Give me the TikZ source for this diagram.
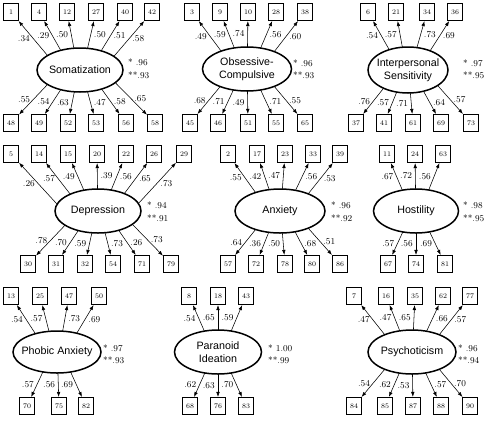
\documentclass[tikz,border=0pt]{standalone}
\usepackage{fontspec}
\newfontfamily\latentfont{Liberation Sans}
\usetikzlibrary{arrows.meta,calc,shapes.geometric}
\tikzset{>=Latex,
  latent/.style={ellipse,draw,line width=1.5pt,minimum width=86pt,minimum height=44pt,
    inner xsep=-8pt,inner ysep=-6pt,outer sep=0pt,align=center,
    font=\latentfont\fontsize{10.7}{13.5}\selectfont},
  item/.style={rectangle,draw,line width=.6pt,minimum width=15.5pt,minimum height=17.5pt,
    inner sep=0pt,font=\fontsize{7}{8}\selectfont},
  loadpath/.style={-{Latex[length=5pt,width=3.6pt]},line width=.55pt},
  lab/.style={inner sep=3pt,font=\fontsize{9}{10}\selectfont},
  fitlab/.style={anchor=west,align=left,inner sep=0pt,font=\fontsize{9}{12.5}\selectfont}}
% arrow from a factor to one of its items, leaving the ellipse part-way out
\newcommand\loading[4]{\draw[loadpath] let \p1=(#1.center),\p2=(#2.center),\p3=(#1.east),\p4=(#1.north),
  \n1={.47*(\x2-\x1)},\n2={(\y4-\y1)*sqrt(1-(\n1/(\x3-\x1))^2)*ifthenelse(\y2>\y1,1,-1)}
  in (\x1+\n1,\y1+\n2) -- (#2) node[lab,midway,#4] {#3};}

\begin{document}
\begin{tikzpicture}[x=1pt,y=-1pt]
\useasboundingbox (0,0) rectangle (486,424);
% Somatization
\node[latent] (som) at (80,70) {Somatization};
\node[fitlab] (somfit) at (128,68.5) {*\ .96\\**.93};
\node[item] (q1) at (11,12) {1}; \loading{som}{q1}{.34}{left}
\node[item] (q4) at (39,12) {4}; \loading{som}{q4}{.29}{left}
\node[item] (q12) at (67,12) {12}; \loading{som}{q12}{.50}{left}
\node[item] (q27) at (96,12) {27}; \loading{som}{q27}{.50}{right}
\node[item] (q40) at (125,12) {40}; \loading{som}{q40}{.51}{right}
\node[item] (q42) at (152,12) {42}; \loading{som}{q42}{.58}{right}
\node[item] (q48) at (11,123) {48}; \loading{som}{q48}{.55}{left}
\node[item] (q49) at (39,123) {49}; \loading{som}{q49}{.54}{left}
\node[item] (q52) at (68,123) {52}; \loading{som}{q52}{.63}{left}
\node[item] (q53) at (96,123) {53}; \loading{som}{q53}{.47}{right}
\node[item] (q56) at (126,123) {56}; \loading{som}{q56}{.58}{right}
\node[item] (q58) at (155,123) {58}; \loading{som}{q58}{.65}{right}
% Obsessive-Compulsive
\node[latent,minimum width=89pt] (obs) at (247,69) {Obsessive-\\Compulsive};
\node[fitlab] (obsfit) at (293,69) {*\ .96\\**.93};
\node[item] (q3) at (192,12) {3}; \loading{obs}{q3}{.49}{left}
\node[item] (q9) at (220,12) {9}; \loading{obs}{q9}{.59}{left}
\node[item] (q10) at (248,12) {10}; \loading{obs}{q10}{.74}{left}
\node[item] (q28) at (276,12) {28}; \loading{obs}{q28}{.56}{right}
\node[item] (q38) at (305,12) {38}; \loading{obs}{q38}{.60}{right}
\node[item] (q45) at (190,123) {45}; \loading{obs}{q45}{.68}{left}
\node[item] (q46) at (218,123) {46}; \loading{obs}{q46}{.71}{left}
\node[item] (q51) at (248,123) {51}; \loading{obs}{q51}{.49}{left}
\node[item] (q55) at (276,123) {55}; \loading{obs}{q55}{.71}{right}
\node[item] (q65) at (305,123) {65}; \loading{obs}{q65}{.55}{right}
% Interpersonal Sensitivity
\node[latent,minimum width=80pt,minimum height=46pt] (ips) at (408,70) {Interpersonal\\Sensitivity};
\node[fitlab] (ipsfit) at (463,69) {*\ .97\\**.95};
\node[item] (q6) at (368,12) {6}; \loading{ips}{q6}{.54}{left}
\node[item] (q21) at (396,12) {21}; \loading{ips}{q21}{.57}{left}
\node[item] (q34) at (427,12) {34}; \loading{ips}{q34}{.73}{right}
\node[item] (q36) at (455,12) {36}; \loading{ips}{q36}{.69}{right}
\node[item] (q37) at (356,123) {37}; \loading{ips}{q37}{.76}{left}
\node[item] (q41) at (384,123) {41}; \loading{ips}{q41}{.57}{left}
\node[item] (q61) at (413,123) {61}; \loading{ips}{q61}{.71}{left}
\node[item] (q69) at (441,123) {69}; \loading{ips}{q69}{.64}{right}
\node[item] (q73) at (471,123) {73}; \loading{ips}{q73}{.57}{right}
% Depression
\node[latent] (dep) at (98,211) {Depression};
\node[fitlab] (depfit) at (147,211.5) {*\ .94\\**.91};
\node[item] (q5) at (11,154) {5}; \loading{dep}{q5}{.26}{left}
\node[item] (q14) at (39,154) {14}; \loading{dep}{q14}{.57}{left}
\node[item] (q15) at (68,154) {15}; \loading{dep}{q15}{.49}{left}
\node[item] (q20) at (97,154) {20}; \loading{dep}{q20}{.39}{right}
\node[item] (q22) at (126,154) {22}; \loading{dep}{q22}{.56}{right}
\node[item] (q26) at (154,154) {26}; \loading{dep}{q26}{.65}{right}
\node[item] (q29) at (184,154) {29}; \loading{dep}{q29}{.73}{right}
\node[item] (q30) at (28,264) {30}; \loading{dep}{q30}{.78}{left}
\node[item] (q31) at (56,264) {31}; \loading{dep}{q31}{.70}{left}
\node[item] (q32) at (85,264) {32}; \loading{dep}{q32}{.59}{left}
\node[item] (q54) at (113,264) {54}; \loading{dep}{q54}{.73}{right}
\node[item] (q71) at (142,264) {71}; \loading{dep}{q71}{.26}{right}
\node[item] (q79) at (171,264) {79}; \loading{dep}{q79}{.73}{right}
% Anxiety
\node[latent,minimum width=90pt] (anx) at (280,211) {Anxiety};
\node[fitlab] (anxfit) at (331,211.5) {*\ .96\\**.92};
\node[item] (q2) at (228,154) {2}; \loading{anx}{q2}{.55}{left}
\node[item] (q17) at (257,154) {17}; \loading{anx}{q17}{.42}{left}
\node[item] (q23) at (285,154) {23}; \loading{anx}{q23}{.47}{left}
\node[item] (q33) at (313,154) {33}; \loading{anx}{q33}{.56}{right}
\node[item] (q39) at (340,154) {39}; \loading{anx}{q39}{.53}{right}
\node[item] (q57) at (228,264) {57}; \loading{anx}{q57}{.64}{left}
\node[item] (q72) at (256,264) {72}; \loading{anx}{q72}{.36}{left}
\node[item] (q78) at (285,264) {78}; \loading{anx}{q78}{.50}{left}
\node[item] (q80) at (312,264) {80}; \loading{anx}{q80}{.68}{right}
\node[item] (q86) at (340,264) {86}; \loading{anx}{q86}{.51}{right}
% Hostility
\node[latent,minimum width=85pt] (hos) at (416,211) {Hostility};
\node[fitlab] (hosfit) at (463,211.5) {*\ .98\\**.95};
\node[item] (q11) at (387,154) {11}; \loading{hos}{q11}{.67}{left}
\node[item] (q24) at (415,154) {24}; \loading{hos}{q24}{.72}{left}
\node[item] (q63) at (443,154) {63}; \loading{hos}{q63}{.56}{left}
\node[item] (q67) at (388,264) {67}; \loading{hos}{q67}{.57}{left}
\node[item] (q74) at (416,264) {74}; \loading{hos}{q74}{.56}{left}
\node[item] (q81) at (445,264) {81}; \loading{hos}{q81}{.69}{left}
% Phobic Anxiety
\node[latent,minimum width=88pt,minimum height=42pt] (pho) at (57,352) {Phobic Anxiety};
\node[fitlab] (phofit) at (103,354) {*\ .97\\**.93};
\node[item] (q13) at (11,296) {13}; \loading{pho}{q13}{.54}{left}
\node[item] (q25) at (40,296) {25}; \loading{pho}{q25}{.57}{left}
\node[item] (q47) at (69,296) {47}; \loading{pho}{q47}{.73}{right}
\node[item] (q50) at (99,296) {50}; \loading{pho}{q50}{.69}{right}
\node[item] (q70) at (27,406) {70}; \loading{pho}{q70}{.57}{left}
\node[item] (q75) at (59,406) {75}; \loading{pho}{q75}{.56}{left}
\node[item] (q82) at (86,406) {82}; \loading{pho}{q82}{.69}{left}
% Paranoid Ideation
\node[latent,minimum width=87pt] (par) at (218,352) {Paranoid\\Ideation};
\node[fitlab] (parfit) at (268,354) {*\ 1.00\\**.99};
\node[item] (q8) at (189,296) {8}; \loading{par}{q8}{.54}{left}
\node[item] (q18) at (218,296) {18}; \loading{par}{q18}{.65}{left}
\node[item] (q43) at (246,296) {43}; \loading{par}{q43}{.59}{left}
\node[item] (q68) at (190,406) {68}; \loading{par}{q68}{.62}{left}
\node[item] (q76) at (218,406) {76}; \loading{par}{q76}{.63}{left}
\node[item] (q83) at (246,406) {83}; \loading{par}{q83}{.70}{left}
% Psychoticism
\node[latent,minimum width=88pt] (psy) at (412,352) {Psychoticism};
\node[fitlab] (psyfit) at (458,354) {*\ .96\\**.94};
\node[item] (q7) at (354,296) {7}; \loading{psy}{q7}{.47}{left}
\node[item] (q16) at (386,296) {16}; \loading{psy}{q16}{.47}{left}
\node[item] (q35) at (415,296) {35}; \loading{psy}{q35}{.65}{left}
\node[item] (q62) at (443,296) {62}; \loading{psy}{q62}{.66}{right}
\node[item] (q77) at (470,296) {77}; \loading{psy}{q77}{.57}{right}
\node[item] (q84) at (354,406) {84}; \loading{psy}{q84}{.54}{left}
\node[item] (q85) at (385,406) {85}; \loading{psy}{q85}{.62}{left}
\node[item] (q87) at (413,406) {87}; \loading{psy}{q87}{.53}{left}
\node[item] (q88) at (441,406) {88}; \loading{psy}{q88}{.57}{right}
\node[item] (q90) at (470,406) {90}; \loading{psy}{q90}{.70}{right}
\end{tikzpicture}
\end{document}
